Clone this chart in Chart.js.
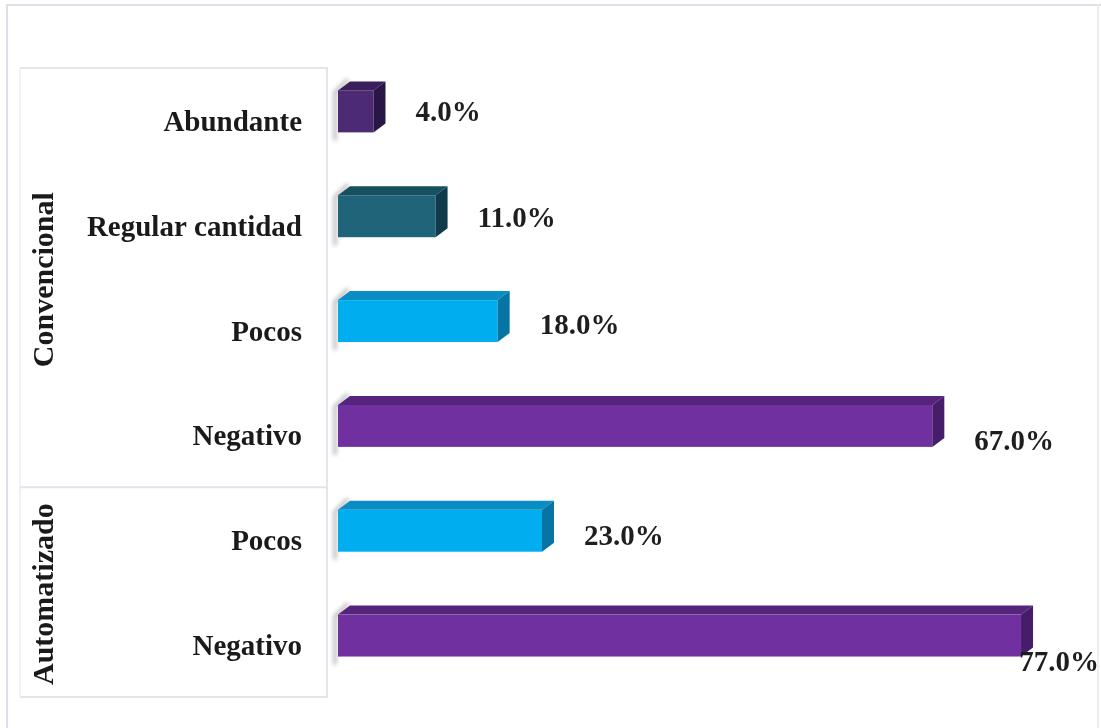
<!DOCTYPE html>
<html lang="es">
<head>
  <meta charset="UTF-8">
  <title>Convencional vs Automatizado</title>
  <style>
  body {
    margin: 0;
    background: #ffffff;
  }
  .wrap {
    width: 1101px;
    height: 728px;
  }
  </style>
  <script src="https://cdn.jsdelivr.net/npm/chart.js"></script>
</head>
<body>
  <div class="wrap"><canvas id="chart" width="1101" height="728"></canvas></div>

  <script>
    // categories, top to bottom
    const categories = ['Abundante', 'Regular cantidad', 'Pocos', 'Negativo', 'Pocos', 'Negativo'];
    const groups = ['Convencional', 'Automatizado'];
    const groupSizes = [4, 2];
    const values = [4.0, 11.0, 18.0, 67.0, 23.0, 77.0];

    // front / top / side shades for each bar
    const frontColors = ['#4c2b74', '#1f6479', '#00aeef', '#7030a0', '#00aeef', '#7030a0'];
    const topColors = ['#3a1f5c', '#17505f', '#0a8dc2', '#55247c', '#0a8dc2', '#55247c'];
    const sideColors = ['#2a1646', '#0f3b4a', '#0874a3', '#461d68', '#0874a3', '#461d68'];

    const serif = '"Liberation Serif", "Times New Roman", serif';
    const DX = 12, DY = 9, LIFT = 9;

    // draws each bar as a little box with top and side faces
    const boxBars = {
      id: 'boxBars',
      afterDatasetsDraw(chart) {
        const ctx = chart.ctx;
        const meta = chart.getDatasetMeta(0);
        meta.data.forEach((bar, i) => {
          const p = bar.getProps(['x', 'y', 'base', 'height'], true);
          const l = p.base, r = p.x;
          const t = p.y - p.height / 2 - LIFT, b = p.y + p.height / 2 - LIFT;
          ctx.save();

          // soft grey edge on the left of the bar
          ctx.filter = 'blur(2px)';
          ctx.strokeStyle = 'rgba(110,110,110,0.55)';
          ctx.lineWidth = 3;
          ctx.beginPath();
          ctx.moveTo(l + DX - 2, t - DY - 2);
          ctx.lineTo(l - 3, t + 2);
          ctx.lineTo(l - 3, b + 8);
          ctx.stroke();
          ctx.filter = 'none';

          // front
          ctx.fillStyle = frontColors[i];
          ctx.fillRect(l, t, r - l, b - t);

          // top
          ctx.fillStyle = topColors[i];
          ctx.beginPath();
          ctx.moveTo(l, t);
          ctx.lineTo(l + DX, t - DY);
          ctx.lineTo(r + DX, t - DY);
          ctx.lineTo(r, t);
          ctx.closePath();
          ctx.fill();

          // side
          ctx.fillStyle = sideColors[i];
          ctx.beginPath();
          ctx.moveTo(r, t);
          ctx.lineTo(r + DX, t - DY);
          ctx.lineTo(r + DX, b - DY);
          ctx.lineTo(r, b);
          ctx.closePath();
          ctx.fill();

          ctx.restore();
        });
      }
    };

    // percentage labels next to the bars
    const valueLabels = {
      id: 'valueLabels',
      afterDatasetsDraw(chart) {
        const ctx = chart.ctx;
        const meta = chart.getDatasetMeta(0);
        ctx.save();
        ctx.font = 'bold 29px ' + serif;
        ctx.fillStyle = '#1e1e1e';
        ctx.textAlign = 'left';
        ctx.textBaseline = 'middle';
        meta.data.forEach((bar, i) => {
          const v = values[i];
          const txt = v.toFixed(1) + '%';
          const w = ctx.measureText(txt).width;
          let x = bar.x + DX + 30;
          let y = bar.y - LIFT + 1 + 0.24 * v;
          if (x + w > chart.width - 2) {
            x = chart.width - 2 - w;
            y += 8;
          }
          ctx.fillText(txt, x, y);
        });
        ctx.restore();
      }
    };

    // group titles, box lines and outer frame
    const groupBox = {
      id: 'groupBox',
      afterDraw(chart) {
        const ctx = chart.ctx;
        const ys = chart.scales.y;
        const area = chart.chartArea;
        const boxL = 20, boxR = 327;

        ctx.save();
        // outer frame
        ctx.strokeStyle = '#dfdfeb';
        ctx.lineWidth = 2;
        ctx.beginPath();
        ctx.moveTo(7, chart.height);
        ctx.lineTo(7, 5);
        ctx.lineTo(chart.width, 5);
        ctx.stroke();
        ctx.strokeStyle = '#f3ecef';
        ctx.beginPath();
        ctx.moveTo(chart.width - 3, 5);
        ctx.lineTo(chart.width - 3, chart.height);
        ctx.stroke();

        // label box
        ctx.strokeStyle = '#e3e5ec';
        ctx.lineWidth = 2;
        ctx.beginPath();
        ctx.moveTo(boxL, area.top);
        ctx.lineTo(boxR, area.top);
        ctx.lineTo(boxR, area.bottom);
        ctx.lineTo(boxL, area.bottom);
        ctx.stroke();
        ctx.strokeStyle = '#f1f2f6';
        ctx.beginPath();
        ctx.moveTo(boxL, area.top);
        ctx.lineTo(boxL, area.bottom);
        ctx.stroke();

        // group separators and titles
        let start = 0;
        groups.forEach((name, gi) => {
          const end = start + groupSizes[gi] - 1;
          const top = start === 0 ? area.top : (ys.getPixelForValue(start - 1) + ys.getPixelForValue(start)) / 2;
          const bottom = end === categories.length - 1 ? area.bottom : (ys.getPixelForValue(end) + ys.getPixelForValue(end + 1)) / 2;
          if (end < categories.length - 1) {
            ctx.strokeStyle = '#e3e5ec';
            ctx.beginPath();
            ctx.moveTo(boxL, bottom);
            ctx.lineTo(boxR, bottom);
            ctx.stroke();
          }
          ctx.save();
          ctx.translate(45, (top + bottom) / 2 + 2);
          ctx.rotate(-Math.PI / 2);
          ctx.font = 'bold 30px ' + serif;
          ctx.fillStyle = '#1a1a1a';
          ctx.textAlign = 'center';
          ctx.textBaseline = 'middle';
          ctx.fillText(name, 0, 0);
          ctx.restore();
          start = end + 1;
        });
        ctx.restore();
      }
    };

    new Chart(document.getElementById('chart'), {
      type: 'bar',
      data: {
        labels: categories,
        datasets: [{
          data: values,
          backgroundColor: 'rgba(0,0,0,0)',
          borderWidth: 0,
          categoryPercentage: 1,
          barPercentage: 0.4
        }]
      },
      options: {
        indexAxis: 'y',
        responsive: false,
        animation: false,
        layout: { padding: { top: 68, bottom: 31, right: 9, left: 0 } },
        plugins: {
          legend: { display: false },
          tooltip: { enabled: false }
        },
        scales: {
          x: {
            display: false,
            min: 0,
            max: 85
          },
          y: {
            position: 'left',
            grid: { display: false, drawTicks: false },
            border: { display: false },
            ticks: {
              color: '#1a1a1a',
              padding: 36,
              labelOffset: 3,
              font: { family: serif, size: 29, weight: 'bold' }
            },
            afterFit(scale) {
              // fixed label column; the tick padding is horizontal only
              scale.width = 338;
              scale.paddingTop = 0;
              scale.paddingBottom = 0;
            }
          }
        }
      },
      plugins: [boxBars, valueLabels, groupBox]
    });
  </script>
</body>
</html>
